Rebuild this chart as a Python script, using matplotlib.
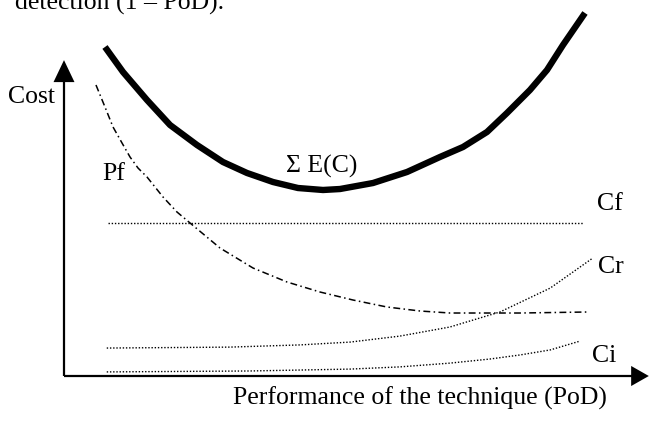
import matplotlib
matplotlib.use("Agg")
import matplotlib.pyplot as plt

# Conceptual units: PoD (x) 0..1 along the horizontal axis, cost (y) 0..1 along the vertical axis
sum_x = [0.0719, 0.1035, 0.1456, 0.1860, 0.2333, 0.2789, 0.3211, 0.3667, 0.4105, 0.4544, 0.4842,
         0.5421, 0.6018, 0.6596, 0.7000, 0.7421, 0.7772, 0.8175, 0.8474, 0.8754, 0.9140]
sum_y = [1.0478, 0.9682, 0.8790, 0.7994, 0.7357, 0.6815, 0.6465, 0.6178, 0.5987, 0.5924, 0.5955,
         0.6146, 0.6497, 0.6975, 0.7293, 0.7771, 0.8376, 0.9108, 0.9745, 1.0541, 1.1561]

pf_x = [0.0561, 0.0719, 0.0860, 0.1018, 0.1158, 0.1298, 0.1456, 0.1737, 0.1982, 0.2211, 0.2737,
        0.3316, 0.3912, 0.4491, 0.5070, 0.5667, 0.6246, 0.6772, 0.8000, 0.9175]
pf_y = [0.9268, 0.8567, 0.7930, 0.7420, 0.6975, 0.6624, 0.6338, 0.5701, 0.5223, 0.4873, 0.4076,
        0.3439, 0.2994, 0.2675, 0.2420, 0.2197, 0.2070, 0.2006, 0.2006, 0.2038]

cf_x = [0.077, 0.911]
cf_y = [0.487, 0.487]

cr_x = [0.075, 0.291, 0.414, 0.502, 0.589, 0.677, 0.765, 0.853, 0.928]
cr_y = [0.089, 0.092, 0.099, 0.108, 0.127, 0.156, 0.204, 0.280, 0.376]

ci_x = [0.075, 0.326, 0.502, 0.589, 0.677, 0.747, 0.800, 0.853, 0.905]
ci_y = [0.013, 0.016, 0.022, 0.029, 0.041, 0.054, 0.067, 0.083, 0.111]

FONT = "Liberation Serif"
FS = 18.5

fig = plt.figure(figsize=(6.5, 4.21), dpi=100)
ax = fig.add_axes([0, 0, 1, 1])
ax.axis("off")
ax.set_xlim(-64 / 570, (650 - 64) / 570)
ax.set_ylim((376 - 421) / 314, 376 / 314)

# axes with arrows
ax.plot([0, 0], [0, 0.94], color="black", lw=1.6, solid_capstyle="butt")
ax.plot([0, 0.997], [0, 0], color="black", lw=1.6, solid_capstyle="butt")
ax.fill([-0.0184, 0.0184, 0.0], [0.936, 0.936, 1.006], color="black", lw=0)
ax.fill([0.995, 0.995, 1.026], [-0.032, 0.032, 0.0], color="black", lw=0)

# curves
ax.plot(sum_x, sum_y, color="black", lw=4.6, solid_capstyle="butt", solid_joinstyle="round")
ax.plot(pf_x, pf_y, color="black", lw=1.1, linestyle=(0, (4.5, 2.2, 1.0, 2.2)))
ax.plot(cf_x, cf_y, color="black", lw=1.0, linestyle=(0, (1, 1.3)))
ax.plot(cr_x, cr_y, color="black", lw=1.0, linestyle=(0, (1, 1.3)))
ax.plot(ci_x, ci_y, color="black", lw=1.0, linestyle=(0, (1, 1.3)))

def px(x, y):
    return (x - 64) / 570, (376 - y) / 314

kw = dict(family=FONT, fontsize=FS, color="black", va="baseline")
ax.text(*px(15, 10), "detection (1 \u2013 PoD).", ha="left", **kw)
ax.text(*px(8, 103), "Cost", ha="left", **kw)
ax.text(*px(102, 180), "Pf", ha="left", **kw)
ax.text(*px(322, 173), "\u03a3 E(C)", ha="center", **kw)
ax.text(*px(597, 210), "Cf", ha="left", **kw)
ax.text(*px(598, 273), "Cr", ha="left", **kw)
ax.text(*px(592, 362), "Ci", ha="left", **kw)
ax.text(*px(420, 405), "Performance of the technique (PoD)", ha="center", **kw)

fig.savefig("out.png", dpi=100)
